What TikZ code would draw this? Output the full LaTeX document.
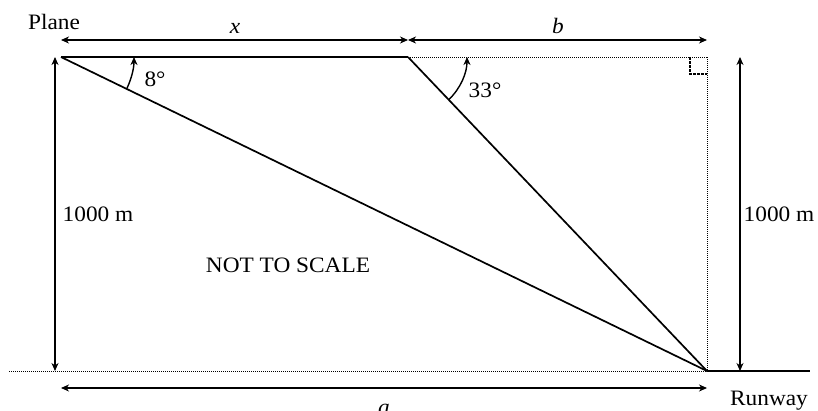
\documentclass[tikz,border=0pt]{standalone}
\usepackage{fontspec}
\setmainfont{Liberation Serif}[FakeStretch=1.06]
\usetikzlibrary{arrows.meta}
\begin{document}
\begin{tikzpicture}[x=1pt,y=1pt,
  every node/.style={font=\fontsize{22}{26}\selectfont, inner sep=0pt, anchor=base},
  mainline/.style={line width=1.7pt},
  dimline/.style={line width=1.1pt, {Stealth[length=8pt,width=7pt,inset=2.5pt]}-{Stealth[length=8pt,width=7pt,inset=2.5pt]}},
  anglearc/.style={line width=1.4pt, -{Stealth[length=8pt,width=7pt,inset=2.5pt]}},
  dotline/.style={line width=1pt, dash pattern=on 1pt off 1pt},
  sqline/.style={line width=1.2pt, dash pattern=on 2.5pt off 1.5pt}]
\useasboundingbox (0,0) rectangle (818,-410);
% key points
\coordinate (P) at (61,-57);
\coordinate (M) at (408,-57);
\coordinate (C) at (707,-57);
\coordinate (Q) at (707,-371);
\coordinate (G0) at (9,-371);
\coordinate (RE) at (810,-371);
% dimension end points
\coordinate (xL) at (61,-40);
\coordinate (xR) at (408,-40);
\coordinate (bR) at (707,-40);
\coordinate (lT) at (55,-57);
\coordinate (lB) at (55,-371);
\coordinate (rT) at (740,-57);
\coordinate (rB) at (740,-371);
\coordinate (aL) at (61,-388);
\coordinate (aR) at (707,-388);
\coordinate (sq1) at (690,-57);
\coordinate (sq2) at (690,-74);
\coordinate (sq3) at (707,-74);
% main lines
\draw[mainline] (P) -- (M);
\draw[mainline] (P) -- (Q);
\draw[mainline] (M) -- (Q);
\draw[mainline] (Q) -- (RE);
% dotted lines
\draw[dotline] (M) -- (C);
\draw[dotline] (C) -- (Q);
\draw[dotline] (G0) -- (Q);
% right angle mark
\draw[sqline] (sq1) -- (sq2) -- (sq3);
% dimension arrows
\draw[dimline] (xL) -- (xR);
\draw[dimline] (xR) -- (bR);
\draw[dimline] (lT) -- (lB);
\draw[dimline] (rT) -- (rB);
\draw[dimline] (aL) -- (aR);
% angle arcs
\draw[anglearc] ([shift={(-25.88:73)}]P) arc[start angle=-25.88, end angle=0, radius=73];
\draw[anglearc] ([shift={(-46.4:59)}]M) arc[start angle=-46.4, end angle=0, radius=59];
% labels
\node (plane) at (54,-29) {Plane};
\node (xlab) at (235,-33) {\itshape x};
\node (blab) at (558,-33) {\itshape b};
\node (ang8) at (155,-86) {8°};
\node (ang33) at (485,-97) {33°};
\node (hL) at (98,-221) {1000 m};
\node (hR) at (779,-221) {1000 m};
\node (nts) at (288,-272) {NOT TO SCALE};
\node (alab) at (384,-414) {\itshape a};
\node (rw) at (769,-405) {Runway};
\end{tikzpicture}
\end{document}
